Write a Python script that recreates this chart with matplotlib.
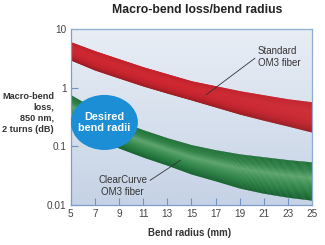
import numpy as np
import matplotlib
matplotlib.use('agg')
import matplotlib.pyplot as plt
from matplotlib.patches import Ellipse
from matplotlib.colors import LinearSegmentedColormap

# data
radius = [5, 7, 9, 11, 13, 15, 17, 19, 21, 23, 25]
std_hi = [6.00, 4.22, 3.08, 2.25, 1.71, 1.30, 1.07, 0.88, 0.75, 0.64, 0.57]
std_lo = [2.96, 2.00, 1.46, 1.07, 0.81, 0.62, 0.47, 0.356, 0.28, 0.223, 0.176]
cc_hi = [0.75, 0.434, 0.271, 0.19, 0.139, 0.106, 0.087, 0.074, 0.066, 0.059, 0.054]
cc_lo = [0.26, 0.145, 0.094, 0.066, 0.048, 0.034, 0.026, 0.0196, 0.016, 0.0137, 0.0122]

xticks = [5, 7, 9, 11, 13, 15, 17, 19, 21, 23, 25]
yticks = [0.01, 0.1, 1, 10]
ytick_labels = ['0.01', '0.1', '1', '10']

plt.rcParams['font.family'] = ['Liberation Sans', 'DejaVu Sans']


def draw_band(ax, x, lo, hi, colors, n=40):
    """ fill a band between lo and hi with a gradient across it (bottom->top) """
    cmap = LinearSegmentedColormap.from_list('band', colors)
    lo = np.log10(lo)
    hi = np.log10(hi)
    for i in range(n):
        t0, t1 = i / n, (i + 1) / n
        y0 = 10 ** (lo + (hi - lo) * t0)
        y1 = 10 ** (lo + (hi - lo) * t1)
        c = cmap((t0 + t1) / 2)
        ax.fill_between(x, y0, y1, color=c, lw=0.3, edgecolor=c, zorder=2)


fig = plt.figure(figsize=(3.25, 2.45), dpi=100)
ax = fig.add_axes([0.218, 0.163, 0.742, 0.719])

# background gradient
grad = np.linspace(0, 1, 100).reshape(-1, 1)
bg = LinearSegmentedColormap.from_list('bg', ['#c6d3e6', '#e9eef5'])
ax.imshow(grad, cmap=bg, extent=[0, 1, 0, 1], origin='lower',
          transform=ax.transAxes, aspect='auto', zorder=0)

draw_band(ax, radius, std_lo, std_hi,
          ['#981a20', '#c0212a', '#cc2630', '#cd2831', '#c22029'])
draw_band(ax, radius, cc_lo, cc_hi,
          ['#145e2b', '#22783b', '#398d4f', '#5ba36b', '#2e8145', '#1f7036'])

ax.set_yscale('log')
ax.set_xlim(5, 25)
ax.set_ylim(0.01, 10)

ax.add_patch(Ellipse((0.139, 0.469), 0.278, 0.3125, transform=ax.transAxes,
                     facecolor='#1b8ed6', edgecolor='none', zorder=4))
ax.text(0.139, 0.469, 'Desired\nbend radii', transform=ax.transAxes,
        ha='center', va='center', color='white', fontsize=7.8,
        fontweight='bold', linespacing=1.15, zorder=5)

ax.annotate('Standard\nOM3 fiber', xy=(16.2, 0.75), xytext=(20.5, 3.3),
            fontsize=7, color='#333333', ha='left', va='center',
            linespacing=1.2,
            arrowprops=dict(arrowstyle='-', color='#333333', lw=0.6,
                            relpos=(0, 0.55), shrinkA=0, shrinkB=0),
            zorder=5)
ax.annotate('ClearCurve\nOM3 fiber', xy=(14.1, 0.058), xytext=(9.3, 0.021),
            fontsize=7, color='#333333', ha='center', va='center',
            linespacing=1.2,
            arrowprops=dict(arrowstyle='-', color='#333333', lw=0.6,
                            relpos=(1.0, 0.68), shrinkA=0, shrinkB=0),
            zorder=5)

ax.set_xticks(xticks)
ax.set_yticks(yticks)
ax.set_yticklabels(ytick_labels)
ax.minorticks_off()
ax.tick_params(direction='in', length=5, width=0.8, color='#6f93bf',
               labelcolor='#444444', labelsize=7.2, pad=3)
for s in ax.spines.values():
    s.set_color('#8eaed2')
    s.set_linewidth(0.9)
ax.spines['left'].set_color('#7b9fc8')
ax.spines['bottom'].set_color('#7b9fc8')

fig.text(0.606, 0.958, 'Macro-bend loss/bend radius', ha='center', va='center',
         fontsize=8.8, fontweight='bold', color='#222222')
fig.text(0.582, 0.049, 'Bend radius (mm)', ha='center', va='center',
         fontsize=7, fontweight='bold', color='#333333')
fig.text(0.166, 0.54, 'Macro-bend\nloss,\n850 nm,\n2 turns (dB)', ha='right',
         va='center', fontsize=6.6, fontweight='bold', color='#333333',
         linespacing=1.3)

fig.savefig('out.png', dpi=100)
